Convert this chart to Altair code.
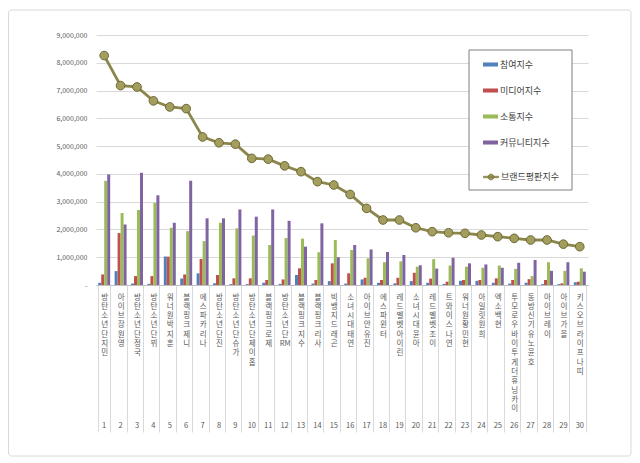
import altair as alt
import pandas as pd

FONT = "Noto Sans CJK KR"

names = [
    "방탄소년단 지민", "아이브 장원영", "방탄소년단 정국", "방탄소년단 뷔", "워너원 박지훈",
    "블랙핑크 제니", "에스파 카리나", "방탄소년단 진", "방탄소년단 슈가", "방탄소년단 제이홉",
    "블랙핑크 로제", "방탄소년단 RM", "블랙핑크 지수", "블랙핑크 리사", "빅뱅 지드래곤",
    "소녀시대 태연", "아이브 안유진", "에스파 윈터", "레드벨벳 아이린", "소녀시대 윤아",
    "레드벨벳 조이", "트와이스 나연", "워너원 황민현", "아일릿 원희", "엑소 백현",
    "투모로우바이투게더 휴닝카이", "동방신기 유노윤호", "아이브 레이", "아이브 가을", "키스오브라이프 나띠",
]
ranks = ["1", "2", "3", "4", "5", "6", "7", "8", "9", "10",
         "11", "12", "13", "14", "15", "16", "17", "18", "19", "20",
         "21", "22", "23", "24", "25", "26", "27", "28", "29", "30"]

participation = [80000, 500000, 50000, 40000, 1030000, 230000, 420000, 60000, 30000, 30000,
                 80000, 40000, 360000, 50000, 140000, 50000, 200000, 80000, 60000, 140000,
                 80000, 40000, 150000, 150000, 80000, 50000, 80000, 30000, 30000, 100000]
media = [380000, 1870000, 320000, 320000, 1020000, 380000, 940000, 360000, 240000, 240000,
         180000, 200000, 600000, 180000, 780000, 420000, 260000, 180000, 260000, 440000,
         230000, 120000, 180000, 180000, 240000, 180000, 210000, 180000, 60000, 120000]
communication = [3750000, 2590000, 2700000, 2960000, 2060000, 1940000, 1580000, 2240000, 2040000, 1780000,
                 1440000, 1690000, 1670000, 1180000, 1620000, 1260000, 960000, 820000, 850000, 660000,
                 930000, 700000, 660000, 620000, 700000, 580000, 320000, 820000, 510000, 600000]
community = [3980000, 2180000, 4040000, 3230000, 2240000, 3750000, 2400000, 2400000, 2720000, 2460000,
             2720000, 2310000, 1380000, 2220000, 1000000, 1440000, 1280000, 1190000, 1080000, 710000,
             590000, 980000, 780000, 740000, 620000, 800000, 900000, 510000, 820000, 480000]
brand = [8260000, 7180000, 7130000, 6630000, 6410000, 6350000, 5330000, 5120000, 5070000, 4560000,
         4530000, 4290000, 4080000, 3720000, 3600000, 3260000, 2760000, 2340000, 2340000, 2060000,
         1920000, 1880000, 1860000, 1800000, 1740000, 1680000, 1620000, 1620000, 1470000, 1380000]

series_names = ["참여지수", "미디어지수", "소통지수", "커뮤니티지수"]
line_name = "브랜드평판지수"
bar_colors = ["#4F81BD", "#C0504D", "#9BBB59", "#8064A2"]
LINE_COLOR = "#8C864C"
POINT_FILL = "#A39D5E"
POINT_STROKE = "#6E6936"
y_ticks = [0, 1000000, 2000000, 3000000, 4000000, 5000000, 6000000, 7000000, 8000000, 9000000]


def stack_label(name):
    tokens = []
    for word in name.split(" "):
        buf = ""
        for ch in word:
            if ch.isascii():
                buf += ch
            else:
                if buf:
                    tokens.append(buf)
                    buf = ""
                tokens.append(ch)
        if buf:
            tokens.append(buf)
    return "|".join(tokens)


keys = [stack_label(n) for n in names]

rows = []
for s, vals in zip(series_names, [participation, media, communication, community]):
    for k, v in zip(keys, vals):
        rows.append({"key": k, "series": s, "value": v})
bar_df = pd.DataFrame(rows)
line_df = pd.DataFrame({"key": keys, "series": line_name, "value": brand})
rank_df = pd.DataFrame({"key": keys, "rank": ranks})

BAR_PATH = "M-1,-0.27L1,-0.27L1,0.27L-1,0.27Z"
LINE_PATH = ("M-1,-0.1L1,-0.1L1,0.1L-1,0.1Z"
             "M0.4,0A0.4,0.4 0 1 1 -0.4,0A0.4,0.4 0 1 1 0.4,0Z")

common_legend = dict(
    orient="none", legendX=373, title=None,
    padding=7, rowPadding=13, symbolOffset=7,
    labelFont=FONT, labelFontSize=9, labelColor="#404040", labelOffset=2,
    symbolSize=225,
)
bar_legend = alt.Legend(legendY=15, symbolType=BAR_PATH, symbolStrokeWidth=0, **common_legend)
line_legend = alt.Legend(legendY=127, symbolType=LINE_PATH, symbolStrokeWidth=0.6,
                         symbolStrokeColor=POINT_STROKE, **common_legend)

x_scale = alt.Scale(paddingInner=0.27, paddingOuter=0.135)
x_axis = alt.Axis(
    title=None, labelExpr="split(datum.label, '|')", labelAngle=0, labelAlign="center",
    labelBaseline="top", labelFont=FONT, labelFontSize=7.5, labelLineHeight=9.3,
    labelColor="#595959", labelPadding=-139, labelLimit=300, labelOverlap=False,
    ticks=True, tickBand="extent", tickSize=147, tickColor="#D9D9D9", tickWidth=1,
    domainColor="#BFBFBF", grid=False,
)
y_axis = alt.Axis(
    title=None, values=y_ticks, tickCount=10,
    labelExpr="datum.value == 0 ? '-' : format(datum.value, ',')",
    labelFont=FONT, labelFontSize=7, labelColor="#595959", labelPadding=9,
    labelOverlap=False,
    ticks=False, domain=False, grid=True, gridColor="#D9D9D9",
)
y_scale = alt.Scale(domain=[0, 9000000], nice=False)

X = alt.X("key:N", sort=keys, scale=x_scale, axis=x_axis)
Y = alt.Y("value:Q", scale=y_scale, axis=y_axis)

one = pd.DataFrame({"a": [0]})
frame = alt.Chart(one).mark_rect(
    filled=False, stroke="#D9D9D9", strokeWidth=1, cornerRadius=3
).encode(
    x=alt.value(-87.5), x2=alt.value(535), y=alt.value(-25), y2=alt.value(421)
)

bars = alt.Chart(bar_df).mark_bar().encode(
    x=X,
    xOffset=alt.XOffset("series:N", sort=series_names, scale=alt.Scale(paddingInner=0, paddingOuter=0)),
    y=Y,
    color=alt.Color("series:N", scale=alt.Scale(domain=series_names, range=bar_colors), legend=bar_legend),
)

legend_box = alt.Chart(one).mark_rect(
    fill="white", stroke="#7F7F7F", strokeWidth=1
).encode(
    x=alt.value(373), x2=alt.value(476), y=alt.value(15), y2=alt.value(155)
)

line = alt.Chart(line_df).mark_line(strokeWidth=2.8, color=LINE_COLOR).encode(x=X, y=Y)

points = alt.Chart(line_df).mark_circle(
    size=75, stroke=POINT_STROKE, strokeWidth=1, opacity=1
).encode(
    x=X,
    y=Y,
    fill=alt.Fill("series:N", scale=alt.Scale(domain=[line_name], range=[POINT_FILL]), legend=line_legend),
)

rank_text = alt.Chart(rank_df).mark_text(
    font=FONT, fontSize=7.5, color="#595959", baseline="middle", align="center"
).encode(
    x=X,
    y=alt.value(391),
    text="rank:N",
)

chart = alt.layer(frame, bars, legend_box, line, points, rank_text).properties(
    width=492, height=250,
    autosize=alt.AutoSizeParams(type="none"),
    padding={"left": 88, "top": 27, "right": 44, "bottom": 175},
    background="white",
).configure_view(strokeWidth=0)

chart.save("out.html", embed_options={"renderer": "svg", "actions": False})
